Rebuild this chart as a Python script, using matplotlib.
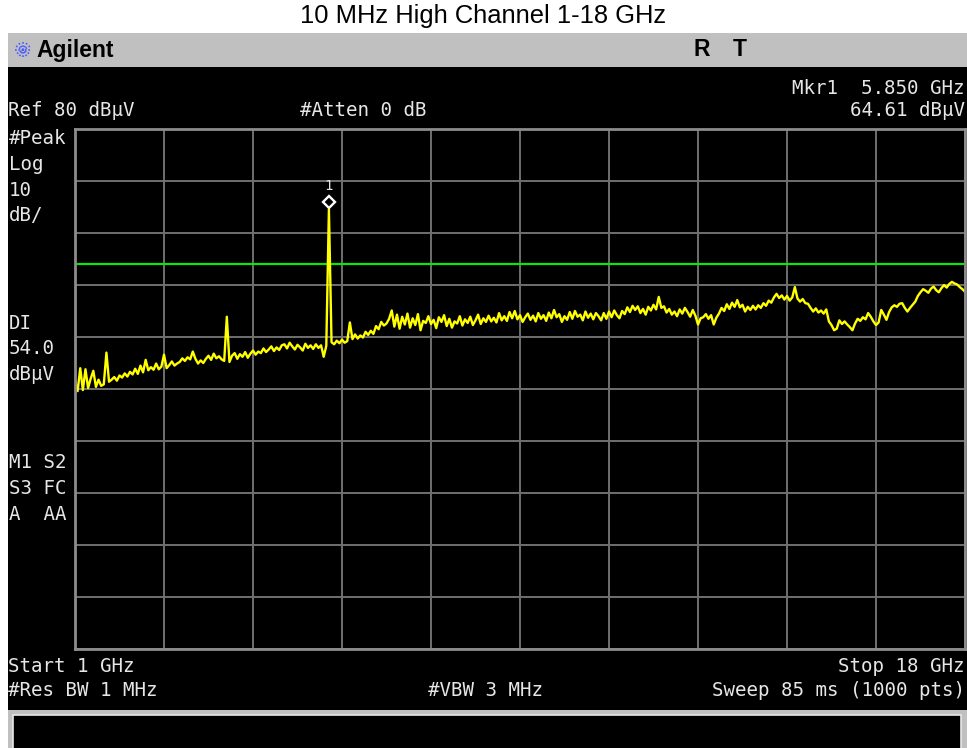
import numpy as np
import matplotlib.pyplot as plt
from matplotlib.patches import Rectangle
from matplotlib.lines import Line2D
from matplotlib import transforms

# sweep settings
freq_start = 1.0     # GHz
freq_stop = 18.0     # GHz
ref_level = 80       # dBuV
db_per_div = 10
display_line = 54.0  # dBuV
marker_freq = 5.850
marker_level = 64.61

# trace level (dBuV), one row per GHz, 0.05 GHz steps
level = [
    31.5, 29.6, 34.0, 29.8, 33.8, 30.2, 32.0, 33.5, 30.4, 31.8, 30.6, 30.9, 37.0, 31.4, 31.8, 32.3, 31.6, 32.6, 32.2, 33.0,
    32.4, 33.3, 32.8, 33.9, 32.9, 34.5, 33.2, 35.6, 33.6, 34.2, 33.7, 34.9, 33.8, 34.3, 36.6, 34.0, 34.6, 35.3, 34.5, 34.9,
    35.2, 35.9, 35.4, 36.1, 35.7, 37.2, 35.8, 34.9, 35.5, 35.0, 35.8, 36.4, 35.6, 36.8, 35.9, 36.3, 35.7, 35.4, 43.9, 35.2,
    36.4, 36.9, 35.8, 36.7, 36.2, 37.1, 36.0, 36.8, 37.4, 36.6, 37.2, 36.9, 37.8, 37.1, 37.6, 38.2, 37.3, 38.0, 37.5, 38.4,
    38.6, 37.8, 38.9, 38.2, 37.6, 38.5, 38.0, 37.4, 38.7, 37.9, 38.4, 37.7, 38.6, 37.9, 38.4, 36.2, 38.3, 64.61, 39.0, 38.6,
    39.3, 38.8, 39.5, 38.9, 39.2, 42.8, 39.6, 40.5, 39.7, 40.3, 39.9, 41.0, 40.4, 41.2, 40.6, 42.1, 41.5, 42.9, 42.2, 42.6,
    43.5, 45.1, 42.0, 44.3, 41.6, 43.9, 42.4, 44.5, 41.8, 43.6, 42.3, 44.4, 41.3, 43.1, 42.7, 44.0, 42.5, 43.3, 41.7, 43.8,
    42.9, 44.2, 42.1, 43.5, 41.8, 43.0, 42.6, 44.0, 42.2, 43.4, 42.7, 43.9, 42.3, 43.2, 44.3, 42.5, 43.6, 42.9, 44.1, 43.0,
    43.7, 42.8, 44.6, 43.2, 44.0, 43.1, 44.8, 43.6, 45.0, 43.4, 44.2, 42.9, 43.8, 44.5, 43.3, 44.1, 43.0, 44.6, 43.5, 44.2,
    43.1, 44.7, 43.6, 45.2, 43.8, 44.4, 42.9, 44.0, 43.3, 44.8, 43.5, 45.0, 43.9, 44.3, 43.2, 44.9, 43.7, 44.5, 43.4, 44.6,
    44.0, 43.2, 44.6, 43.5, 44.9, 43.8, 45.1, 44.2, 43.6, 45.0, 44.4, 45.7, 44.8, 46.0, 45.2, 45.9, 44.6, 45.4, 44.3, 45.8,
    45.1, 46.2, 45.3, 47.7, 45.6, 45.9, 44.7, 45.4, 44.3, 44.9, 44.0, 45.3, 44.5, 45.6, 44.8, 43.9, 45.2, 44.1, 42.4, 43.6,
    43.8, 44.4, 43.5, 44.2, 42.4, 43.7, 44.5, 45.6, 45.0, 46.3, 45.4, 46.6, 45.8, 47.1, 45.7, 46.2, 44.9, 45.8, 45.2, 46.0,
    45.3, 46.1, 45.6, 46.5, 46.0, 47.0, 46.6, 47.6, 48.3, 47.5, 48.0, 47.2, 47.9, 47.0, 47.6, 49.6, 47.4, 46.8, 47.3, 46.5,
    46.4, 45.6, 44.9, 45.5, 44.7, 45.1, 44.5, 45.3, 43.0, 42.3, 41.3, 41.6, 43.2, 42.5, 43.0, 42.4, 41.9, 41.3, 42.6, 43.5,
    43.1, 43.8, 43.4, 44.6, 43.9, 43.0, 42.3, 42.8, 45.2, 44.3, 43.3, 44.8, 45.7, 46.1, 45.8, 46.4, 46.5, 45.6, 44.9, 45.6,
    46.2, 46.8, 47.9, 48.6, 49.2, 48.9, 48.5, 49.3, 49.7, 49.0, 48.6, 49.4, 50.0, 49.5, 50.2, 50.6, 50.3, 50.1, 49.6, 49.2,
    48.7,
]

freq = np.linspace(freq_start, freq_stop, len(level))

W, H = 967, 748
fig = plt.figure(figsize=(W / 100, H / 100), dpi=100, facecolor="white")


def fx(x):
    return x / W


def fy(y):
    return 1 - y / H


def box(x0, y0, x1, y1, **kw):
    fig.add_artist(Rectangle((fx(x0), fy(y1)), (x1 - x0) / W, (y1 - y0) / H,
                             transform=fig.transFigure, zorder=-5, **kw))


mono = {"family": "DejaVu Sans Mono", "size": 13.8, "color": "#e6e6e6"}


def label(x, y, s, ha="left", **kw):
    opts = dict(mono)
    opts.update(kw)
    fig.text(fx(x), fy(y), s, ha=ha, va="center", **opts)


# instrument screen
box(8, 33, W, H, facecolor="black", edgecolor="none")
box(8, 33, W, 67, facecolor="#c0c0c0", edgecolor="none")
box(8, 710, W, H, facecolor="#c0c0c0", edgecolor="none")
box(13, 715, 961, H + 2, facecolor="black", edgecolor="#e8e8e8", linewidth=1.2)

fig.text(fx(483), fy(16), "10 MHz High Channel 1-18 GHz", ha="center", va="center",
         family="Liberation Sans", size=18.4, color="black")

# agilent spark
cx, cy = 23, 50
for a in np.deg2rad(np.arange(0, 180, 30)):
    dx, dy = 8 * np.cos(a), 8 * np.sin(a)
    fig.add_artist(Line2D([fx(cx - dx), fx(cx + dx)], [fy(cy - dy), fy(cy + dy)],
                          transform=fig.transFigure, color="#4a5cff", lw=1.2, ls=(0, (1, 1))))
fig.text(fx(36), fy(50), "Agilent", ha="left", va="center", family="Liberation Sans",
         weight="bold", size=16.5, color="black")
fig.text(fx(702), fy(50), "R", ha="center", va="center", family="Liberation Sans",
         weight="bold", size=16.5, color="black")
fig.text(fx(740), fy(50), "T", ha="center", va="center", family="Liberation Sans",
         weight="bold", size=16.5, color="black")

# annotations around the graticule
label(965, 88, "Mkr1  5.850 GHz", ha="right")
label(8, 110, "Ref 80 dB\u03bcV")
label(300, 110, "#Atten 0 dB")
label(965, 110, "64.61 dB\u03bcV", ha="right")
for i, s in enumerate(["#Peak", "Log", "10", "dB/"]):
    label(9, 139 + 25.5 * i, s)
for i, s in enumerate(["DI", "54.0", "dB\u03bcV"]):
    label(9, 324 + 25 * i, s)
for i, s in enumerate(["M1 S2", "S3 FC", "A  AA"]):
    label(9, 462 + 26 * i, s)
label(8, 666, "Start 1 GHz")
label(8, 690, "#Res BW 1 MHz")
label(428, 690, "#VBW 3 MHz")
label(965, 666, "Stop 18 GHz", ha="right")
label(965, 690, "Sweep 85 ms (1000 pts)", ha="right")

# graticule
ax = fig.add_axes([fx(75), fy(649), 890 / W, 520 / H])
ax.set_zorder(5)
ax.set_facecolor("black")
ax.set_xlim(freq_start, freq_stop)
ax.set_ylim(ref_level - 10 * db_per_div, ref_level)
ax.set_xticks(np.linspace(freq_start, freq_stop, 11))
ax.set_yticks(np.linspace(ref_level - 10 * db_per_div, ref_level, 11))
ax.tick_params(length=0, labelbottom=False, labelleft=False)
ax.set_axisbelow(True)
ax.grid(color="#707070", lw=1.4)
for sp in ax.spines.values():
    sp.set_color("#8c8c8c")
    sp.set_linewidth(2)

ax.axhline(display_line, color="#00ee00", lw=1.5)
ax.plot(freq, level, color="#ffff00", lw=1.7)

up = transforms.offset_copy(ax.transData, fig=fig, y=7, units="dots")
ax.plot([marker_freq], [marker_level], marker="D", ms=6.5, mfc="none", mec="white",
        mew=1.7, transform=up, clip_on=False)
ax.text(marker_freq, marker_level, "1", ha="center", va="center", family="DejaVu Sans Mono",
        size=10, color="#e6e6e6",
        transform=transforms.offset_copy(ax.transData, fig=fig, y=23, units="dots"))

fig.savefig("out.png", dpi=100, facecolor="white")
